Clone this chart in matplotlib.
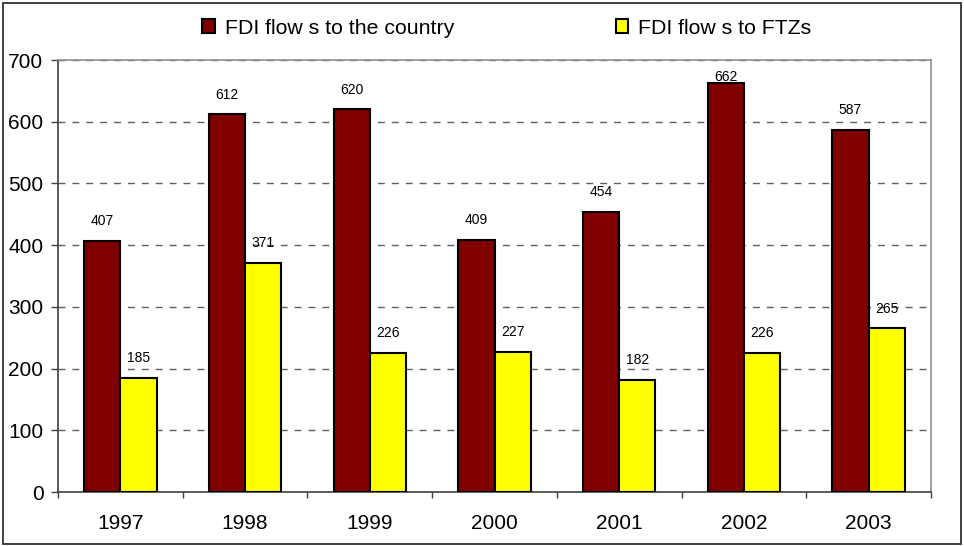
import numpy as np
import matplotlib.pyplot as plt
from matplotlib.patches import Rectangle

plt.rcParams['font.family'] = ['Liberation Sans', 'DejaVu Sans']

years = ['1997', '1998', '1999', '2000', '2001', '2002', '2003']
country = [407, 612, 620, 409, 454, 662, 587]
ftz = [185, 371, 226, 227, 182, 226, 265]

fig = plt.figure(figsize=(9.64, 5.46), dpi=100)
ax = fig.add_axes([58/964, 1-492/546, (931-58)/964, (492-60)/546])

# outer chart frame
fig.patches.append(Rectangle((3/964, 2/546), 958/964, 541/546, transform=fig.transFigure,
                             fill=False, edgecolor='#404040', linewidth=1.4))

x = np.arange(len(years))
w = 0.29
b1 = ax.bar(x - w/2, country, w, color='#800000', edgecolor='black', linewidth=1.5,
            label='FDI flow s to the country', zorder=3)
b2 = ax.bar(x + w/2, ftz, w, color='#FFFF00', edgecolor='black', linewidth=1.5,
            label='FDI flow s to FTZs', zorder=3)

# value labels above bars, kept inside the plot area
for bars, vals in ((b1, country), (b2, ftz)):
    for r, v in zip(bars, vals):
        ax.text(r.get_x() + r.get_width()/2, min(v + 32, 672), str(v),
                ha='center', va='center', fontsize=10, zorder=4)

ax.set_ylim(0, 700)
ax.set_xlim(-0.5, len(years) - 0.5)
ax.set_yticks(range(0, 701, 100))
ax.set_xticks(x)
ax.set_xticklabels(years)
ax.set_xticks(np.arange(-0.5, len(years), 1), minor=True)
ax.tick_params(axis='x', which='major', length=0, pad=16, labelsize=15)
ax.tick_params(axis='x', which='minor', length=4, width=1, color='#404040', direction='out')
ax.tick_params(axis='y', length=5, width=1, color='#404040', pad=5.5, labelsize=15)

ax.yaxis.grid(True, linestyle=(0, (5, 5)), color='#606060', linewidth=1)
ax.set_axisbelow(True)
for s in ('left', 'bottom'):
    ax.spines[s].set_color('#404040')
    ax.spines[s].set_linewidth(1.2)
for s in ('top', 'right'):
    ax.spines[s].set_color('#909090')
    ax.spines[s].set_linewidth(1.2)

fig.legend(handles=[b1, b2], loc='center', bbox_to_anchor=(507/964, 1-28/546), ncol=2,
           frameon=False, fontsize=15.3, handlelength=0.58, handleheight=0.58,
           handletextpad=0.48, columnspacing=7.6)

plt.savefig('out.png', dpi=100)
